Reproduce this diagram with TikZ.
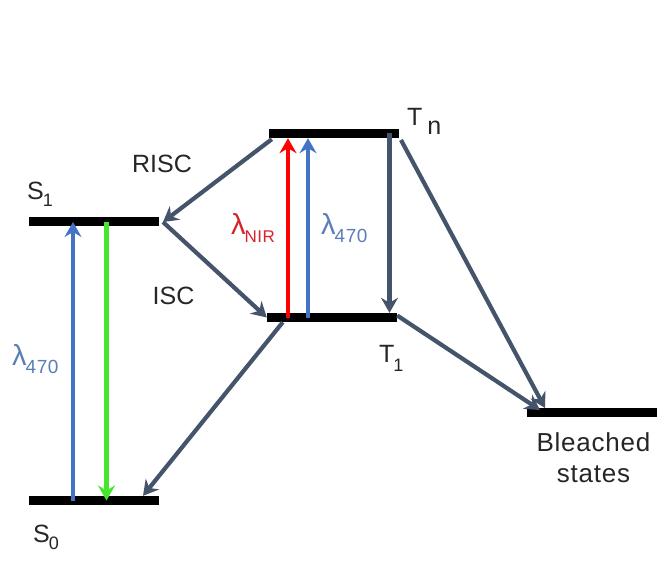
\documentclass[tikz,border=0pt]{standalone}
\usepackage{fontspec}
\setmainfont{Liberation Sans}
\newfontfamily\spaced[LetterSpace=3]{Liberation Sans}
\usetikzlibrary{arrows.meta}
\definecolor{slategrey}{HTML}{44546A}
\definecolor{bluearrow}{HTML}{4472C4}
\definecolor{bluetext}{HTML}{5B7DB8}
\definecolor{redarrow}{HTML}{FF0000}
\definecolor{redtext}{HTML}{D8232A}
\definecolor{greenarrow}{HTML}{44E62E}
\newcommand{\labsub}[3]{#1\kern-1pt\raisebox{-#3pt}{\fontsize{18}{18}\selectfont #2}}
\newcommand{\lam}[2]{{\fontsize{29}{29}\selectfont λ}\kern-1pt\raisebox{-8pt}{\spaced\fontsize{#2}{#2}\selectfont #1}}
\tikzset{
  level/.style={fill=black,inner sep=0pt,minimum width=130pt,minimum height=9pt},
  lab/.style={inner sep=0pt,anchor=base,font=\fontsize{25}{30}\selectfont,text=black!85},
  arr/.style={-{Stealth[length=15pt,width=17pt,inset=5pt]},line width=4.2pt},
  grey/.style={arr,draw=slategrey},
  bluea/.style={arr,draw=bluearrow},
  reda/.style={arr,draw=redarrow},
  greena/.style={arr,draw=greenarrow}
}
\begin{document}
\begin{tikzpicture}[x=1pt,y=-1pt]
\useasboundingbox (0,0) rectangle (664,588);
\fill[white] (0,0) rectangle (664,588);
% levels
\node[level] (S1) at (94,222) {};
\node[level] (S0) at (94,500.5) {};
\node[level] (Tn) at (334,133.5) {};
\node[level] (T1) at (332,317.5) {};
\node[level] (BS) at (592,412.5) {};
% anchor points for free-standing connector ends
\coordinate (S1r) at (163,222);
\coordinate (Tns) at (401,140);
\coordinate (BSa) at (540,410);
\coordinate (BSb) at (545,408);
% vertical arrows
\draw[bluea] ([xshift=-21pt]S0.center) -- ([xshift=-21pt]S1.center);
\draw[greena] ([xshift=12.5pt]S1.center) -- ([xshift=12.5pt]S0.center);
\draw[reda] ([xshift=-44pt]T1.center) -- ([xshift=-46pt]Tn.south);
\draw[bluea] ([xshift=-24pt]T1.center) -- ([xshift=-26pt]Tn.south);
\draw[grey] ([xshift=55.5pt]Tn.center) -- ([xshift=57.5pt]T1.north);
% slanted arrows
\draw[grey] ([xshift=3pt,yshift=-1pt]Tn.south west) -- (S1r);
\draw[grey] (S1r) -- ([xshift=0pt]T1.west);
\draw[grey] ([xshift=16pt]T1.south west) -- ([xshift=49pt]S0.north);
\draw[grey] ([yshift=2pt]T1.east) -- (BSa);
\draw[grey] (Tns) -- (BSb);
% labels
\node[lab] (risc) at (162,173) {RISC};
\node[lab] (isc) at (173.5,304) {ISC};
\node[lab,anchor=base west] (s1) at (27,200) {\labsub{S}{1}{7}};
\node[lab,anchor=base west] (s0) at (33,542) {\labsub{S}{0}{7.5}};
\node[lab,anchor=base west] (tn) at (407,126) {T\kern5pt\raisebox{-9pt}{n}};
\node[lab,anchor=base west] (t1) at (379,362) {\labsub{T}{1}{9}};
\node[lab,text=redtext,anchor=base west] (lnir) at (231,235) {\lam{NIR}{17}};
\node[lab,text=bluetext,anchor=base west] (l470a) at (321,235) {\lam{470}{19}};
\node[lab,text=bluetext,anchor=base west] (l470b) at (12,365) {\lam{470}{19}};
\node[lab,anchor=base,align=center,font=\spaced\fontsize{26}{31}\selectfont] (bl) at (593.5,482) {Bleached\\states};
\end{tikzpicture}
\end{document}
